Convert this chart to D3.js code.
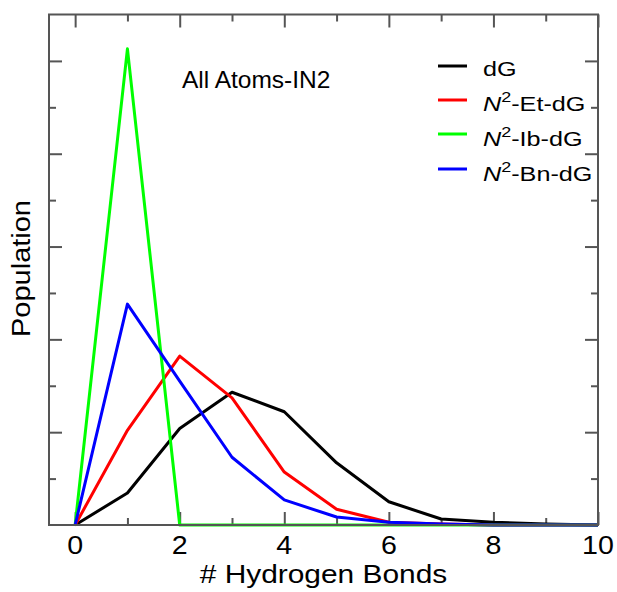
<!DOCTYPE html>
<html>
<head>
<meta charset="utf-8">
<script src="https://cdn.jsdelivr.net/npm/d3@7"></script>
<style>
  body { margin: 0; background: #fff; }
  svg text { font-family: "Liberation Sans", Arial, sans-serif; fill: #000; }
</style>
</head>
<body>
<svg id="chart" width="617" height="592"></svg>
<script>
// Data
var bonds = [0, 1, 2, 3, 4, 5, 6, 7, 8, 9, 10];
var dG   = [0, 0.0345, 0.104, 0.143, 0.122, 0.067, 0.025, 0.0065, 0.003, 0.001, 0];
var etDG = [0, 0.102, 0.182, 0.137, 0.057, 0.017, 0.003, 0.001, 0, 0, 0];
var ibDG = [0, 0.513, 0, 0, 0, 0, 0, 0, 0, 0, 0];
var bnDG = [0, 0.238, 0.155, 0.073, 0.027, 0.0086, 0.003, 0.001, 0, 0, 0];

var seriesNames = ["dG", "Et", "Ib", "Bn"];
var seriesColors = ["#000000", "#ff0000", "#00ff00", "#0000ff"];
var seriesValues = [dG, etDG, ibDG, bnDG];

var xTicks = [0, 2, 4, 6, 8, 10];
var xMinorTicks = [1, 3, 5, 7, 9];
var yTicks = [0.1, 0.2, 0.3, 0.4, 0.5];
var yMinorTicks = [0.05, 0.15, 0.25, 0.35, 0.45];

(function(){
	var svg = d3.select("#chart");
	var left = 49, right = 598, top = 14.5, bottom = 525;

	var x = d3.scaleLinear().domain([-0.5, 10]).range([left, right]);
	var y = d3.scaleLinear().domain([0, 0.55]).range([bottom, top]);

	var axisColor = "#555555";

	// inward ticks on all four sides
	function ticks(g, axis, size){
		g.call(axis.tickSize(size).tickSizeOuter(0));
		g.select(".domain").remove();
		g.selectAll(".tick line").attr("stroke", axisColor).attr("stroke-width", 2);
	}

	ticks(svg.append("g").attr("transform", "translate(0," + bottom + ")"),
		d3.axisTop(x).tickValues(xTicks).tickFormat(""), 13);
	ticks(svg.append("g").attr("transform", "translate(0," + bottom + ")"),
		d3.axisTop(x).tickValues(xMinorTicks).tickFormat(""), 7);
	ticks(svg.append("g").attr("transform", "translate(0," + top + ")"),
		d3.axisBottom(x).tickValues(xTicks).tickFormat(""), 13);
	ticks(svg.append("g").attr("transform", "translate(0," + top + ")"),
		d3.axisBottom(x).tickValues(xMinorTicks).tickFormat(""), 7);
	ticks(svg.append("g").attr("transform", "translate(" + left + ",0)"),
		d3.axisRight(y).tickValues(yTicks).tickFormat(""), 13);
	ticks(svg.append("g").attr("transform", "translate(" + left + ",0)"),
		d3.axisRight(y).tickValues(yMinorTicks).tickFormat(""), 7);
	ticks(svg.append("g").attr("transform", "translate(" + right + ",0)"),
		d3.axisLeft(y).tickValues(yTicks).tickFormat(""), 13);
	ticks(svg.append("g").attr("transform", "translate(" + right + ",0)"),
		d3.axisLeft(y).tickValues(yMinorTicks).tickFormat(""), 7);

	// the reference font runs a bit wider than Liberation Sans, so stretch horizontally
	function label(tx, ty, rot, sx, size){
		return svg.append("text")
			.attr("transform", "translate(" + tx + "," + ty + ") rotate(" + rot + ") scale(" + sx + ",1)")
			.style("font-size", size + "px");
	}

	// x tick labels
	xTicks.forEach(function(d){
		label(x(d), 554, 0, 1.1, 26).attr("text-anchor", "middle").text(d);
	});

	// series lines
	var line = d3.line()
		.x(function(d, i){ return x(bonds[i]); })
		.y(function(d){ return y(d); });

	seriesValues.forEach(function(vals, i){
		svg.append("path")
			.attr("d", line(vals))
			.attr("fill", "none")
			.attr("stroke", seriesColors[i])
			.attr("stroke-width", 3)
			.attr("stroke-linejoin", "round");
	});

	// frame
	svg.append("rect")
		.attr("x", left).attr("y", top)
		.attr("width", right - left).attr("height", bottom - top)
		.attr("fill", "none")
		.attr("stroke", axisColor)
		.attr("stroke-width", 2);

	// axis titles
	label((left + right) / 2, 583, 0, 1.15, 26).attr("text-anchor", "middle").text("# Hydrogen Bonds");
	label(30, 268.5, -90, 1.16, 25).attr("text-anchor", "middle").text("Population");

	label(182, 88, 0, 1, 24.5).text("All Atoms-IN2");

	// legend
	var legendY = [66, 100, 134, 169];
	var legendBase = [76, 111, 146, 181];
	seriesNames.forEach(function(name, i){
		svg.append("line")
			.attr("x1", 438).attr("x2", 467)
			.attr("y1", legendY[i]).attr("y2", legendY[i])
			.attr("stroke", seriesColors[i])
			.attr("stroke-width", 3);

		var t = label(483, legendBase[i], 0, 1.2, 21);
		if(name == "dG"){
			t.text("dG");
		}
		else{
			t.append("tspan").style("font-style", "italic").text("N");
			t.append("tspan").attr("dy", -9).style("font-size", "15px").text("2");
			t.append("tspan").attr("dy", 9).text("-" + name + "-dG");
		}
	});
})();
</script>
</body>
</html>
